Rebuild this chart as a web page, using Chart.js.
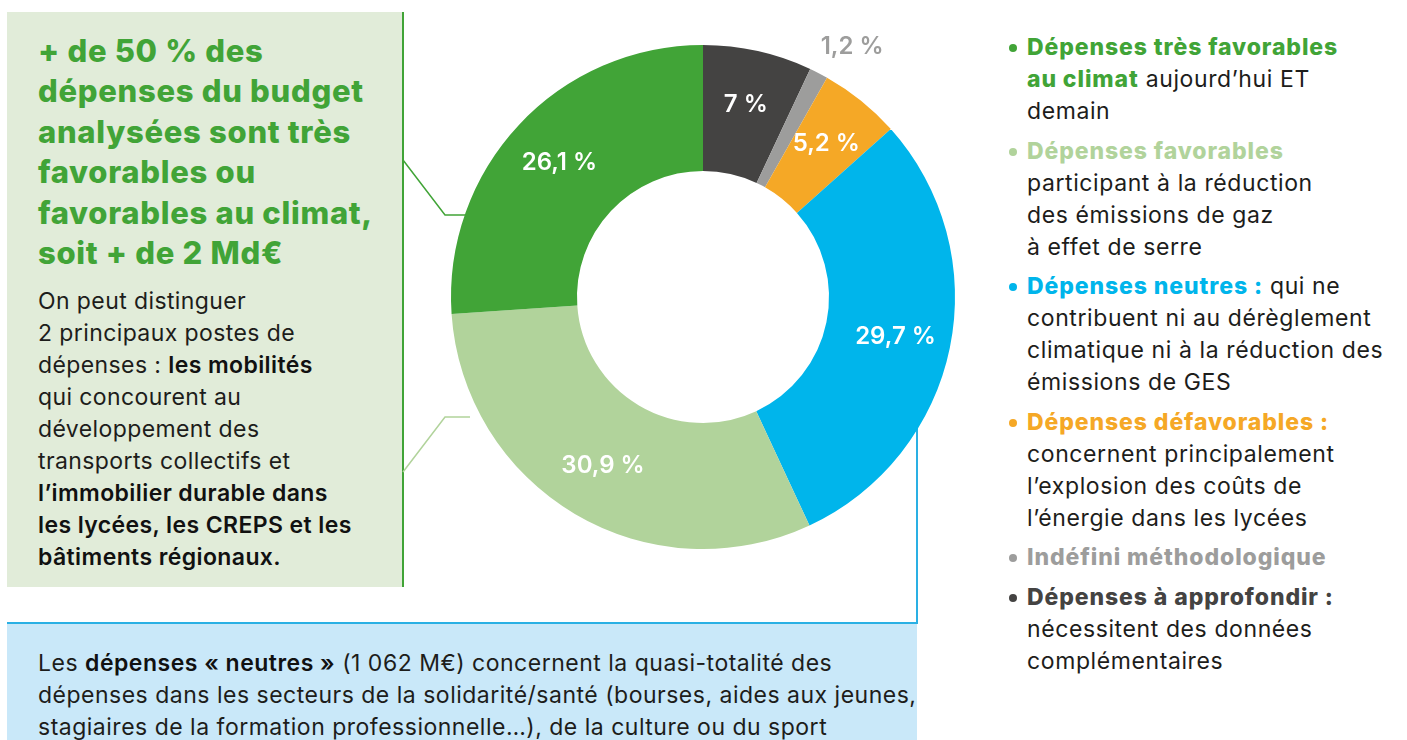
<!DOCTYPE html>
<html lang="fr">
<head>
<meta charset="utf-8">
<script src="https://cdn.jsdelivr.net/npm/chart.js@4.4.1/dist/chart.umd.min.js"></script>
<style>
  html, body { margin: 0; padding: 0; background: #ffffff; }
  body { width: 1407px; height: 740px; position: relative; overflow: hidden; font-family: Inter, "Noto Sans", sans-serif; color: #1d1d1b; }
  #greenBox { position: absolute; left: 7px; top: 12px; width: 395px; height: 575px; background: #e1ecd9; border-right: 2px solid #41a437; }
  #greenBox h2 { margin: 0; position: absolute; left: 31px; top: 19px; white-space: nowrap; font-size: 31px; line-height: 40.4px; font-weight: 800; color: #41a437; letter-spacing: 0.7px; }
  #greenBox p { margin: 0; position: absolute; left: 31px; top: 273px; white-space: nowrap; font-size: 23px; line-height: 32px; letter-spacing: 0.4px; }
  #greenBox b, #blueBox b { font-weight: 600; color: #111; }
  #blueBox { position: absolute; left: 7px; top: 622px; width: 910px; height: 130px; background: #c9e8f9; border-top: 2px solid #2ab0e4; }
  #blueBox p { margin: 0; position: absolute; left: 31px; top: 23px; white-space: nowrap; font-size: 23px; line-height: 32px; letter-spacing: 0.5px; }
  #blueLine { position: absolute; left: 916px; top: 400px; width: 2px; height: 224px; background: #2ab0e4; }
  #links { position: absolute; left: 0; top: 0; }
  #chartBox { position: absolute; left: 413px; top: 7px; width: 580px; height: 580px; }
  #legend { position: absolute; left: 1027px; top: 31px; width: 380px; margin: 0; padding: 0; list-style: none; white-space: nowrap; }
  #legend li { position: relative; font-size: 23px; line-height: 32px; margin-bottom: 7.5px; letter-spacing: 0.6px; }
  #legend li::before { content: ""; position: absolute; left: -18px; top: 13px; width: 8px; height: 8px; border-radius: 50%; background: var(--c); }
  #legend .k { font-weight: 800; color: var(--c); letter-spacing: 0.9px; }
</style>
</head>
<body>
<div id="blueLine"></div>
<div id="greenBox">
  <h2>+ de 50 % des<br>dépenses du budget<br>analysées sont très<br>favorables ou<br>favorables au climat,<br>soit + de 2 Md€</h2>
  <p>On peut distinguer<br>2 principaux postes de<br>dépenses : <b>les mobilités</b><br>qui concourent au<br>développement des<br>transports collectifs et<br><b>l’immobilier durable dans<br>les lycées, les CREPS et les<br>bâtiments régionaux.</b></p>
</div>
<svg id="links" width="480" height="600">
  <polyline points="403,160 445,215 470,215" fill="none" stroke="#41a437" stroke-width="1.5"/>
  <polyline points="403,472 445,417 470,417" fill="none" stroke="#b1d39b" stroke-width="1.5"/>
</svg>
<div id="blueBox">
  <p>Les <b>dépenses « neutres »</b> (1 062 M€) concernent la quasi-totalité des<br>dépenses dans les secteurs de la solidarité/santé (bourses, aides aux jeunes,<br>stagiaires de la formation professionnelle…), de la culture ou du sport</p>
</div>
<div id="chartBox"><canvas id="donut"></canvas></div>
<ul id="legend"></ul>
<script>
// segments, clockwise from 12 o'clock
const categories = ['Dépenses à approfondir', 'Indéfini méthodologique', 'Dépenses défavorables', 'Dépenses neutres', 'Dépenses favorables', 'Dépenses très favorables au climat'];
const shares = [7, 1.2, 5.2, 29.7, 30.9, 26.1];
const shareLabels = ['7 %', '1,2 %', '5,2 %', '29,7 %', '30,9 %', '26,1 %'];
const colors = ['#444342', '#9d9d9c', '#f5a826', '#00b5eb', '#b1d39b', '#41a437'];

// legend, top to bottom
const legendKeys = ['Dépenses très favorables<br>au climat', 'Dépenses favorables', 'Dépenses neutres :', 'Dépenses défavorables :', 'Indéfini méthodologique', 'Dépenses à approfondir :'];
const legendTexts = [' aujourd’hui ET<br>demain', '<br>participant à la réduction<br>des émissions de gaz<br>à effet de serre', ' qui ne<br>contribuent ni au dérèglement<br>climatique ni à la réduction des<br>émissions de GES', '<br>concernent principalement<br>l’explosion des coûts de<br>l’énergie dans les lycées', '', '<br>nécessitent des données<br>complémentaires'];
const legendColors = ['#41a437', '#b1d39b', '#00b5eb', '#f5a826', '#9d9d9c', '#444342'];

const legend = document.getElementById('legend');
legendKeys.forEach((key, i) => {
  const li = document.createElement('li');
  li.style.setProperty('--c', legendColors[i]);
  li.innerHTML = `<span class="k">${key}</span>${legendTexts[i]}`;
  legend.appendChild(li);
});

// draws the percentage on each arc (small ones outside)
const sliceLabels = {
  id: 'sliceLabels',
  afterDatasetsDraw(chart) {
    const ctx = chart.ctx;
    const meta = chart.getDatasetMeta(0);
    ctx.save();
    ctx.font = '600 24px Inter, sans-serif';
    ctx.textBaseline = 'middle';
    meta.data.forEach((arc, i) => {
      const p = arc.getProps(['x', 'y', 'startAngle', 'endAngle', 'innerRadius', 'outerRadius'], true);
      const mid = (p.startAngle + p.endAngle) / 2;
      if (shares[i] < 2) {
        const r = p.outerRadius + 26;
        ctx.fillStyle = colors[i];
        ctx.textAlign = 'left';
        ctx.fillText(shareLabels[i], p.x + Math.cos(mid) * r - 10, p.y + Math.sin(mid) * r - 3);
      } else {
        const r = (p.innerRadius + p.outerRadius) / 2 * 1.04;
        ctx.fillStyle = '#ffffff';
        ctx.textAlign = 'center';
        ctx.fillText(shareLabels[i], p.x + Math.cos(mid) * r, p.y + Math.sin(mid) * r);
      }
    });
    ctx.restore();
  }
};

new Chart(document.getElementById('donut'), {
  type: 'doughnut',
  data: {
    labels: categories,
    datasets: [{
      data: shares,
      backgroundColor: colors,
      borderWidth: 0
    }]
  },
  options: {
    responsive: true,
    maintainAspectRatio: false,
    animation: false,
    cutout: '50%',
    layout: { padding: 38 },
    plugins: {
      legend: { display: false },
      tooltip: { enabled: false }
    }
  },
  plugins: [sliceLabels]
});
</script>
</body>
</html>
